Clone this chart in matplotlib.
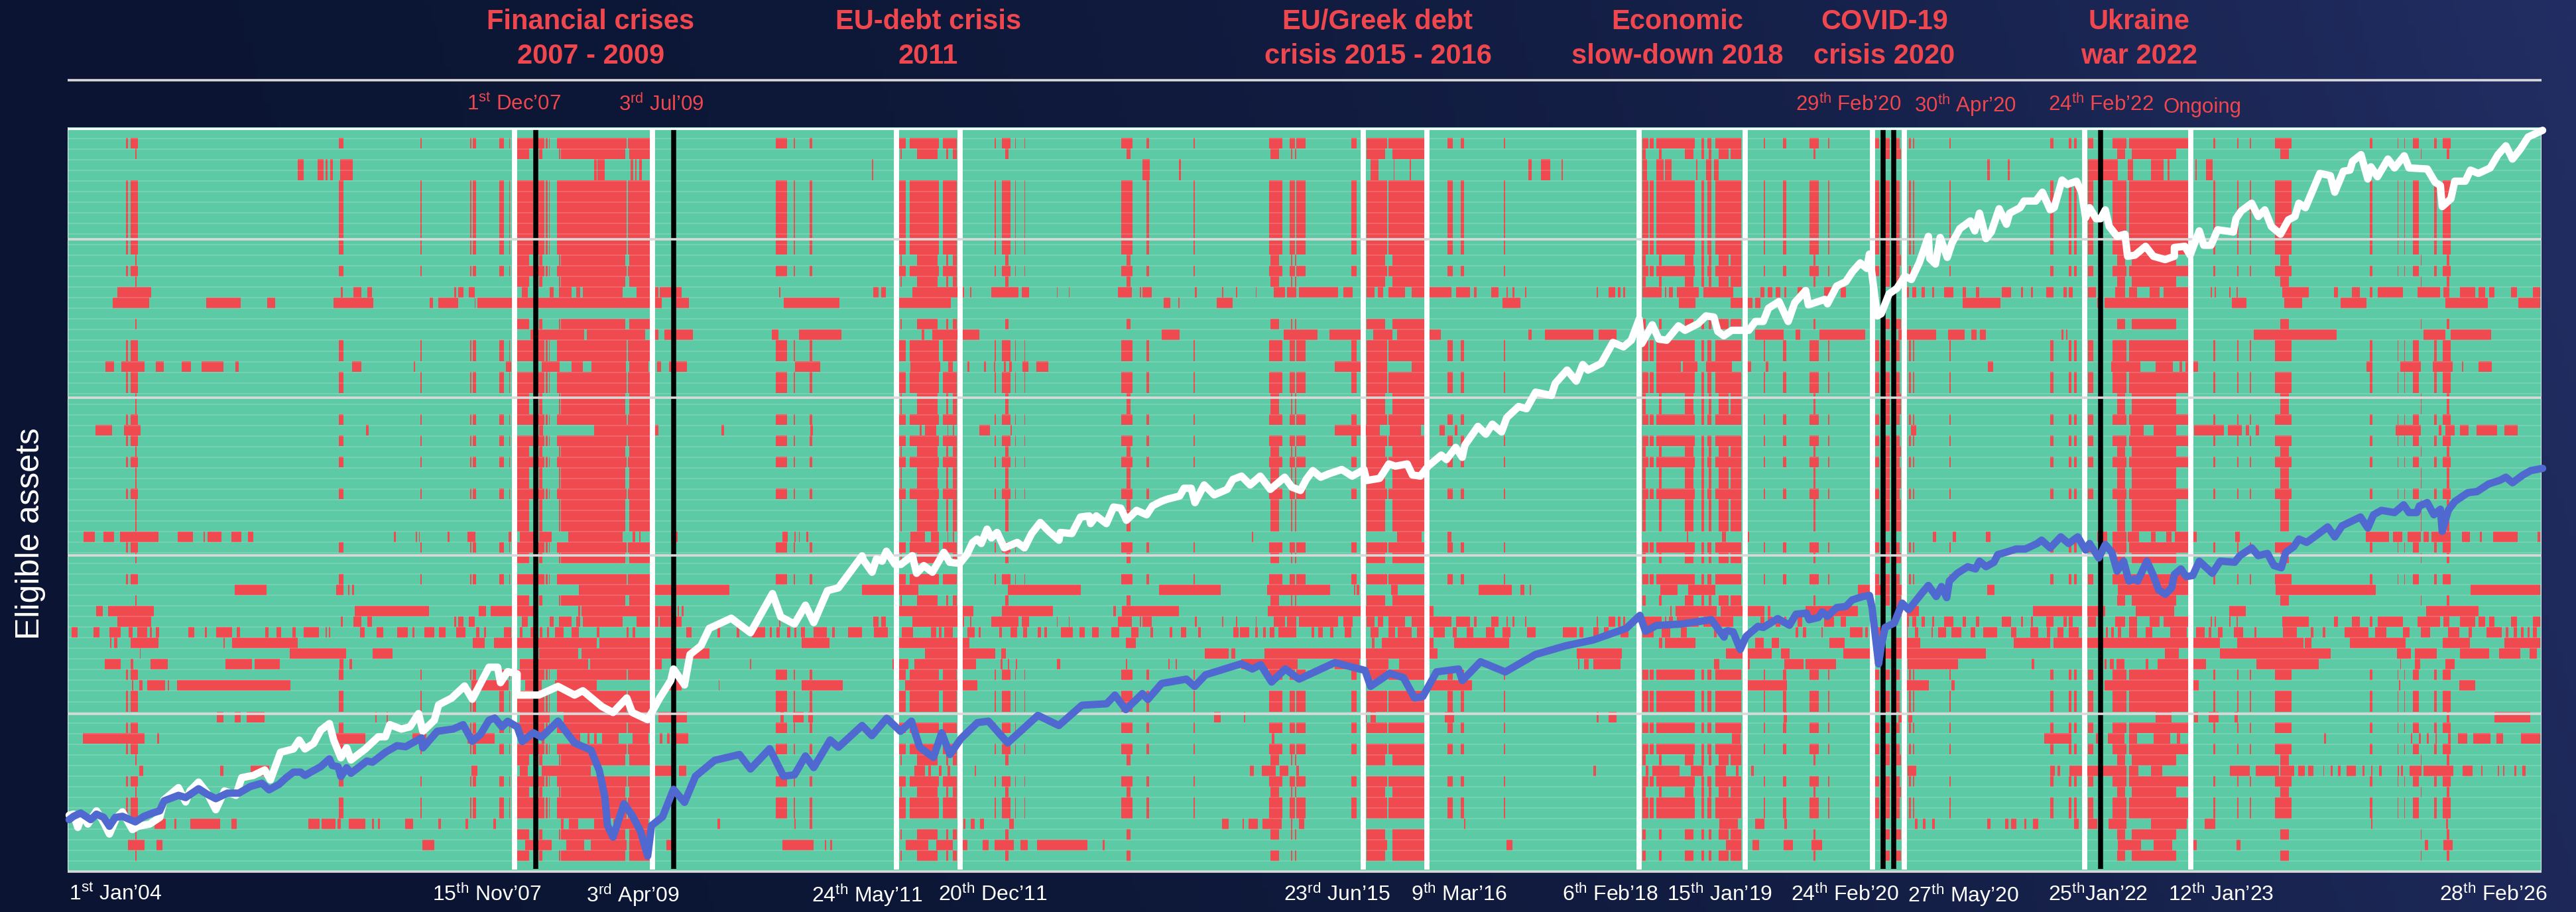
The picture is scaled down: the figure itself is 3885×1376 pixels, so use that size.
import numpy as np
import matplotlib
matplotlib.use("Agg")
import matplotlib.pyplot as plt
from matplotlib.colors import ListedColormap, LinearSegmentedColormap

plt.rcParams['font.family'] = ['Liberation Sans', 'DejaVu Sans']
plt.rcParams['mathtext.fontset'] = 'custom'
plt.rcParams['mathtext.rm'] = 'Liberation Sans'
plt.rcParams['mathtext.default'] = 'rm'

W, H = 3885, 1376
X0, X1, Y0, Y1 = 102, 3833, 121, 1315
ROW_H = 16.03
PANEL = [0, 1300, 2585]

# eligibility patterns: red spans for each of three chart sections (observation readings)
A = [[229,233,237,251,616,625,765,767,855,858,860,866,908,916,926,928,941,970,978,990,993,996,998,1000,1013,1140,1142,1182,1411,1432,1444,1446,1473,1477],
     [68,80,87,140,147,173,241,244,254,270,278,280,295,297,472,492,517,522,603,606,740,765,778,788,790,807,890,900,918,955,958,1023,1065,1075,1089,1095,1168,1170,1420,1430,1433,1440,1445,1515,1527,1532,1538,1545],
     [3,50,90,93,126,132,174,191,207,210,293,300,305,320,328,338,355,358,362,364,428,430,612,618,645,650,655,660,680,690,725,750,755,862,908,912,952,954,975,977,1020,1050,1193,1197,1243,1245,1255,1257,1271,1282,1310,1314,1325,1340]]
B = [[246,248,941,962,980,987,1017,1019,1020,1137,1144,1182],
     [70,72,100,137,153,157,165,172,260,267,481,489,743,758,780,783,787,790,918,952,965,1023,1420,1425,1450,1455,1497,1512,1527,1532,1540,1545],
     [8,26,30,50,181,184,305,320,330,340,733,748,760,840,1030,1045,1285,1287,1333,1337]]
C = [[542,552,578,588,592,596,600,605,619,642,1080,1085,1087,1100,1147,1152,1155,1158,1162,1168],
     [18,20,510,524,576,580,925,940,967,969,996,998,1212,1218,1235,1252,1272,1275,1420,1428,1445,1458,1460,1472,1517,1520,1535,1545],
     [0,8,497,502,534,538,680,735,752,762,795,818,825,828,875,878,895,907]]
G = [[], [], []]
U1 = [[213,275,620,623,643,657,668,677,826,830,833,843,853,863,949,960,1000,1007,1017,1040,1048,1055,1060,1133,1158,1182,1192,1197,1200,1240,1417,1420],
      [20,30,35,43,92,175,183,186,197,199,235,285,291,304,354,356,376,378,466,491,505,508,510,527,605,609,655,657,680,683,716,718,749,770,773,790,795,866,875,893,918,932,938,948,958,988,1000,1023,1030,1072,1080,1106,1113,1118,1145,1158,1172,1175,1183,1187,1206,1208,1336,1339,1358,1370,1375,1380,1384,1388,1420,1455,1460,1463,1468,1475,1482,1522,1530,1568],
      [0,35,85,92,98,106,112,120,128,132,152,160,200,218,230,240,350,355,360,368,378,384,397,400,418,435,452,458,476,482,523,540,558,562,577,580,604,618,635,642,645,653,680,695,730,748,755,770,792,810,818,862,903,906,910,913,937,940,950,953,1033,1082,1128,1135,1160,1175,1193,1198,1207,1253,1280,1320,1327,1338,1357,1385,1390,1402,1410,1420,1450,1460,1490,1503]]
U2 = [[205,271,375,438,486,500,607,679,782,788,797,833,863,865,868,1203,1230,1253,1426,1527],
      [68,162,549,561,575,578,645,674,1165,1197,1486,1516],
      [30,55,60,70,75,85,452,521,697,700,710,862,942,968,1037,1070,1140,1187,1330,1408,1463,1503]]
U3 = [[965,1062,1067,1173,1183,1197,1209,1260,1404,1416,1453,1530],
      [108,113,128,213,545,578,767,828,850,907,930,965,973,1053,1212,1218,1242,1330,1340,1372],
      [75,127,148,157,192,275,335,404,426,456,468,478,484,495,632,635,640,643,982,1132,1290,1330,1340,1413]]
U4 = [[192,208,221,263,284,298,330,347,367,406,428,434,640,657,752,755,920,930,985,1018,1040,1060,1076,1138,1145,1180,1195,1202,1217,1250,1446,1492],
      [88,142,157,165,192,195,222,225,240,243,258,262,268,273,292,303,317,339,860,907,918,955,1000,1023,1445,1490,1493,1520,1535,1568],
      [0,33,60,68,94,99,498,508,722,776,803,835,847,852,858,865,870,880,1187,1197,1248,1285,1307,1344,1360,1363,1391,1415]]
U5 = [[174,204,226,256,666,671,980,988,1080,1198,1312,1317,1474,1479],
      [105,108,115,135,155,157,165,168,213,233,270,272,860,942,960,1017,1050,1060,1078,1083],
      [358,368,757,782,800,841,873,928,935,960,967,973,985,991,1240,1285,1318,1323,1330,1347,1357,1373,1387,1424,1437,1462]]
U6 = [[152,173,188,208,218,288,323,351,370,373,378,403,421,439,451,461,716,720,756,758,762,764,814,818,850,865,925,930,945,975,980,1003,1033,1132,1150,1155,1162,1165,1220,1233,1423,1433,1445,1447,1453,1455,1467,1470],
      [88,115,125,140,155,157,165,168,709,711,973,1018,1065,1072,1500,1503],
      [15,22,62,64,398,404,434,440,495,503,697,715,725,750,752,773,795,803,822,832,838,878,948,956,1185,1228,1235,1252,1262,1285,1291,1300,1305,1340,1360,1375,1393,1397,1417,1462,1498,1503]]
U7 = [[427,485,612,625,633,636,640,644,1053,1326],
      [0,102,265,398,540,653,737,851,895,897,900,905,962,975,1122,1182,1198,1205,1214,1217,1452,1483,1503,1552],
      [262,320,328,345,497,510,735,862,1022,1203,1376,1503]]
U8 = [[175,187,197,280,645,780,871,884,892,975,1052,1055,1058,1222,1232,1235,1240,1243],
      [68,203,255,347,457,462,473,577,738,1040,1470,1473,1480,1555],
      [3,5,12,92,98,103,167,262,330,373,580,712,767,837,937,967,1295,1391]]
U9 = [[130,141,170,181,199,219,234,241,250,268,273,276,283,290,343,353,373,376,393,422,430,437,483,488,503,511,532,538,552,580,592,595,598,601,655,663,685,697,722,742,750,754,772,790,798,811,830,847,866,872,880,884,916,930,945,950,965,972,982,986,995,998,1010,1025,1040,1053,1085,1090,1140,1143,1150,1155,1183,1190,1248,1258,1305,1310,1340,1345,1368,1392,1400,1404,1412,1418,1432,1438,1445,1449,1457,1464,1480,1504,1513,1518,1542,1568],
      [22,47,72,93,125,135,140,145,150,165,192,205,212,216,250,254,270,282,293,300,320,326,332,337,362,383,395,405,418,430,454,468,490,503,525,530,560,565,580,590,612,616,675,685,688,704,715,720,730,735,742,750,757,790,818,823,830,838,852,858,878,890,925,940,958,970,975,1000,1010,1025,1040,1060,1075,1082,1100,1112,1135,1150,1165,1180,1210,1225,1275,1300,1305,1312,1330,1340,1350,1358,1380,1394,1420,1440,1455,1470,1490,1500],
      [0,5,148,153,162,168,195,198,247,270,275,280,297,305,348,352,365,372,395,398,408,422,432,450,467,475,490,515,540,550,575,590,605,612,625,635,645,663,713,716,722,727,735,740,755,770,785,797,830,860,877,893,900,905,917,925,945,962,983,986,1035,1060,1085,1090,1107,1112,1147,1190,1202,1223,1253,1265,1285,1303,1335,1355,1373,1378,1405,1433,1440,1445,1455,1460,1468,1473,1480,1483,1490,1497]]
U10 = [[200,203,208,214,238,288,406,409,422,542,860,882,899,1085,1090,1222,1458,1509],
       [68,195,480,498,928,932,945,1040,1077,1177,1450,1456,1460,1516],
       [75,90,105,118,210,237,330,375,545,612,618,920,952,1072,1075,1087,1157,1258,1325,1375,1437,1503]]
U11 = [[254,256,527,630,678,714,980,1052,1058,1290],
       [115,242,253,262,624,667,672,679,732,1047,1300,1382],
       [22,105,122,138,235,495,820,845,920,1122,1242,1268,1275,1315,1357,1410,1428,1467,1483,1497]]
U12 = [[191,220,238,243,274,305,410,458,463,509,618,625,635,640,946,1070,1073,1203,1364,1366],
       [55,58,62,65,68,85,95,207,252,256,265,268,280,282,355,360,480,483,557,560,570,573,690,792,860,905,918,958,977,1030,1302,1305,1313,1322,1330,1380],
       [0,10,62,65,128,163,167,222,352,444,578,582,710,714,720,727,732,746,785,790,807,895,987,1100,1248,1250,1275,1284,1330,1347]]
U13 = [[240,243,253,259,268,300,305,308,322,528,858,925,955,985,1010,1085,1215,1240,1307,1309,1458,1533],
       [78,210,1030,1110],
       [62,133,350,391,432,438,710,882,1246,1248,1355,1385]]
U14 = [[394,407,427,438,449,481,682,685,703,706,945,1000,1025,1180,1197,1250,1420,1425,1442,1462,1470,1478],
       [640,652,695,697,915,918,925,935,1060,1077,1336,1340,1358,1372],
       [127,133,335,345,353,360,803,832,873,880,900,918,947,953,1333,1337,1420,1485]]
U15 = [[151,263,286,289,610,664,750,775,850,900,945,970,985,990,1040,1055,1068,1072,1080,1085,1095,1125,1150,1180,1200,1205,1213,1218,1228,1252],
       [745,750],
       [33,48,600,650,695,698,716,747,755,770,800,830,842,848,1110,1113,1267,1270,1282,1285,1297,1300,1312,1315,1335,1340,1353,1370,1381,1412,1423,1435,1468,1503]]
U16 = [[253,260,400,407,456,490,858,868,945,960,985,1075,1192,1222,1235,1248],
       [95,115,120,125,140,145,155,160,205,208,705,713,727,753,760,775,790,795,1330,1335,1425,1430,1437,1487,1508,1530],
       [3,22,40,45,68,72,352,368,612,620,625,630,647,750,755,772,795,815,938,975,985,1027,1030,1055,1063,1075,1080,1090,1108,1110,1122,1125,1135,1140,1150,1168,1180,1183,1195,1198,1210,1215,1243,1246,1250,1253,1265,1287,1291,1345,1362,1380,1395,1398,1425,1428,1435,1438,1456,1459,1470,1476]]
U17 = [[281,302,317,321,346,400,421,431,561,581,585,610,614,620,634,664,677,680,688,691,737,751,797,802,847,852,897,902,1020,1025,1035,1052,1080,1105,1115,1180,1305,1310,1445,1447,1473,1477],
       [185,188,198,205,215,222,268,276,655,667,692,695,703,720,728,763,780,783,795,805,1095,1098],
       [10,43,75,92,128,133,365,370,380,385,397,402,497,503,530,535,540,550,565,568,580,590,655,663,680,697,718,750,795,860,892,912,1195,1197,1332,1335]]
U18 = [[233,263,285,295,768,790,955,1003,1030,1062,1075,1140,1145,1180,1212,1222,1423,1480,1500,1503,1510,1513],
       [80,120,135,165,182,192,220,230,241,276,288,302,318,410,438,441,918,955,965,1023,1172,1183],
       [22,50,70,82,127,143,177,197,735,777,800,833,872,878,950,957,1293,1299,1327,1343]]

ROWS = [G, A, B, C, C, A, A, A, A, A, A, A, B, A, B, U1, U2, G, B, U3, A, A, U4, A, A, B, B, A, U5, A,
        B, A, B, B, A, B, B, B, U6, A, B, G, A, U7, B, U8, U1, U9, U10, U11, U12, A, U13, A, A, U14, A,
        U15, A, B, U16, A, B, A, A, U17, B, U18, B, G]

# index levels, section by section: (position, reading)
WHITE_1 = [10,750,25,745,40,805,55,750,75,790,105,730,125,770,150,835,175,760,195,735,230,815,250,800,290,790,325,760,340,680,390,625,415,690,430,640,460,600,490,650,520,725,550,640,590,660,610,580,650,570,690,545,710,590,745,465,790,450,810,410,830,450,860,425,885,365,915,335,930,410,955,490,975,445,990,500,1040,450,1085,395,1110,395,1125,340,1165,360,1195,350,1225,290,1240,370,1280,320,1295,250,1340,220,1385,165,1412,225,1440,155,1470,80,1500,80,1510,150,1535,100,1568,110]
WHITE_2 = [940,820,980,820,1015,790,1045,820,1060,805,1095,860,1115,880,1140,830,1150,880,1178,905,1200,830,1220,770,1225,730,1245,785,1255,680,1275,650,1290,590,1330,555,1365,605,1405,470,1420,550,1445,575,1465,510,1480,570,1505,460,1525,450,1568,340]
WHITE_3 = [5,465,35,520,50,460,70,470,85,425,115,485,135,485,175,445,190,525,215,490,245,520,285,430,305,475,340,480,365,440,385,385,400,370,415,390,435,325,450,365,470,340,495,410,540,385,565,410,590,345,620,295,650,335,685,375,690,340,730,345,760,270,790,265,795,300,815,265,850,300,875,225,900,230,920,285,955,240,990,260,1010,220,1040,200,1060,190,1105,175,1120,140,1145,140,1158,205,1190,125,1225,170,1270,145,1290,100,1320,85,1350,125,1385,85,1420,145,1470,90,1495,135,1525,150,1545,100,1568,60]
WHITE_4 = [5,875,30,900,60,885,110,865,150,895,195,865,205,915,255,905,290,840,315,850,360,840,380,890,410,895,440,850,490,800,510,820,545,765,570,810,580,755,630,670,660,705,685,660,720,695,740,630,785,580,815,590,850,515,910,530,925,475,970,415,1005,465,1030,390,1050,415,1100,385,1145,290,1185,310,1215,280,1245,185,1255,295,1295,210,1320,275,1350,280,1395,215,1420,235,1470,205,1500,170,1530,175,1545,240,1568,260]
WHITE_5 = [30,925,95,925,120,885,150,885,170,825,210,795,245,885,270,800,312,745,322,810,385,785,395,805,430,725,465,705,490,660,520,620,545,645,555,580,585,860,600,850,630,760,660,735,690,680,715,695,745,620,780,500,785,600,807,625,825,505,852,595,870,530,900,465,940,430,957,475,975,395,1000,510,1020,480,1050,375,1078,445,1090,395,1130,370,1145,340,1190,340,1215,300,1245,380,1260,370,1290,245,1310,265,1345,250,1365,300,1380,415,1395,370,1420,420,1437,420,1455,380,1470,455,1500,500,1530,490,1540,590,1568,585]
WHITE_6 = [40,545,70,590,115,605,150,590,150,550,190,545,210,585,245,475,262,540,290,540,315,470,375,480,385,420,405,385,445,350,470,410,495,380,520,455,555,490,585,425,610,410,625,350,650,370,680,285,705,215,745,225,762,300,795,205,820,200,830,160,862,130,888,240,900,185,925,230,965,150,990,190,1027,135,1045,190,1115,195,1145,255,1165,270,1172,365,1205,330,1220,250,1260,250,1280,200,1310,215,1355,190,1385,130,1415,90,1440,150,1470,105,1500,50,1555,20]
BLUE_1 = [10,770,25,755,50,740,85,770,105,745,130,760,150,800,170,760,195,755,240,780,270,755,300,740,325,730,340,685,390,660,415,670,460,630,490,655,520,675,560,650,600,650,640,620,680,605,705,635,740,610,765,580,790,555,815,555,830,570,850,555,885,530,915,495,925,525,945,530,955,575,975,535,990,560,1045,505,1065,510,1110,465,1150,435,1180,440,1235,400,1240,445,1290,370,1345,360,1380,340,1412,415,1440,385,1470,320,1490,310,1515,350,1535,325,1568,350]
BLUE_2 = [950,980,970,950,985,965,1015,910,1045,985,1075,1010,1090,1080,1100,1170,1105,1270,1115,1310,1135,1195,1150,1235,1165,1290,1178,1375,1185,1270,1205,1240,1225,1145,1245,1190,1265,1100,1300,1045,1345,1025,1365,1075,1400,1005,1425,1100,1445,1095,1465,1030,1480,1070,1510,975,1525,1000,1568,925]
BLUE_3 = [18,960,45,900,70,945,90,910,105,1000,130,1035,145,950,160,1025,180,970,210,915,230,910,265,985,320,890,358,925,400,855,445,850,460,820,480,870,510,815,520,835,545,780,590,765,605,790,625,750,690,712,710,730,725,715,745,775,770,730,795,765,860,708,915,735,925,790,960,745,985,760,1005,830,1020,825,1045,740,1085,730,1092,770,1125,705,1170,740,1225,680,1280,650,1330,630,1390,590,1415,545,1425,600,1445,580,1490,575,1545,560,1568,620]
BLUE_4 = [5,700,15,695,35,700,62,780,85,720,130,675,150,680,205,640,250,670,275,620,315,615,325,645,360,635,375,610,395,630,430,590,465,585,490,555,530,540,555,535,565,590,590,845,600,765,615,680,650,660,680,570,705,600,755,525,780,490,810,540,830,495,850,545,860,470,890,435,930,405,960,415,975,380,1000,405,1030,385,1045,350,1075,340,1115,325,1150,325,1195,300,1212,285,1245,320,1285,270,1315,300,1350,270,1380,330,1395,300,1430,365,1455,305,1480,340,1500,425,1525,380,1545,470,1568,460]
BLUE_5 = [10,560,45,470,70,535,90,600,115,620,140,590,150,530,175,505,195,540,220,535,245,470,295,525,325,470,380,475,400,445,445,410,470,445,505,435,530,490,558,500,575,430,605,405,625,370,655,385,690,355,735,315,762,360,790,310,860,270,888,320,910,260,940,240,990,250,1025,215,1045,250,1075,250,1085,220,1115,205,1140,260,1165,235,1172,335,1195,240,1220,200,1270,160,1305,155,1350,120,1390,105,1415,90,1440,115,1480,80,1510,60,1555,50]

WHITE_MARKS = [(0,936),(0,1187),(1,63),(1,178),(1,912),(1,1027),(1,1413),(2,57),(2,288),(2,346),(2,674),(2,867)]
BLACK_MARKS = [(0,974),(0,1225),(2,307),(2,327),(2,703)]
GRID_LEVELS = [0, 238, 477, 715, 954, 1194]

TITLES = [("Financial crises\n2007 - 2009", 891), ("EU-debt crisis\n2011", 1400), ("EU/Greek debt\ncrisis 2015 - 2016", 2078),
          ("Economic\nslow-down 2018", 2530), ("COVID-19\ncrisis 2020", 2842), ("Ukraine\nwar 2022", 3226)]
TOP_LABELS = [("1$^{st}$ Dec’07", 775), ("3$^{rd}$ Jul’09", 997), ("29$^{th}$ Feb’20", 2788), ("30$^{th}$ Apr’20", 2964), ("24$^{th}$ Feb’22", 3168)]
BOTTOM_LABELS = [("1$^{st}$ Jan’04", 174), ("15$^{th}$ Nov’07", 734), ("3$^{rd}$ Apr’09", 954), ("24$^{th}$ May’11", 1308), ("20$^{th}$ Dec’11", 1497),
                 ("23$^{rd}$ Jun’15", 2016), ("9$^{th}$ Mar’16", 2200), ("6$^{th}$ Feb’18", 2428), ("15$^{th}$ Jan’19", 2594), ("24$^{th}$ Feb’20", 2782),
                 ("27$^{th}$ May’20", 2961), ("25$^{th}$Jan’22", 3164), ("12$^{th}$ Jan’23", 3350), ("28$^{th}$ Feb’26", 3760)]

GREEN, RED, TITLE_RED = '#5CCAA5', '#EF4A50', '#F0474F'


def obs(panel, reading):
    return PANEL[panel] + np.asarray(reading, float) / 1.206 - X0


def curve(parts):
    xs, ys = [], []
    for flat, xo, fx, yo, fy in parts:
        arr = np.array(flat, float).reshape(-1, 2)
        xs.append(xo + arr[:, 0] / fx - X0)
        ys.append(Y1 - (yo + arr[:, 1] / fy))
    return np.concatenate(xs), np.concatenate(ys)


fig = plt.figure(figsize=(W / 100, H / 100), dpi=100)

# background gradient
bg = fig.add_axes([0, 0, 1, 1], zorder=0)
bg.set_axis_off()
gx, gy = np.meshgrid(np.linspace(0, 1, 400), np.linspace(0, 1, 150))
t = np.clip(gx * 0.9 + gy * 0.1, 0, 1) ** 2.2
cmap_bg = LinearSegmentedColormap.from_list('bg', ['#0B1533', '#222E63'])
bg.imshow(t, cmap=cmap_bg, aspect='auto', extent=(0, 1, 0, 1), origin='lower', vmin=0, vmax=1)

ax = fig.add_axes([X0 / W, 1 - Y1 / H, (X1 - X0) / W, (Y1 - Y0) / H], zorder=1)
ax.patch.set_alpha(0)
N = X1 - X0

matrix = np.zeros((len(ROWS), N), dtype=int)
for r, pat in enumerate(ROWS):
    for p, flat in enumerate(pat):
        for s, e in np.array(flat, float).reshape(-1, 2):
            i0, i1 = float(obs(p, s)), float(obs(p, e))
            matrix[r, max(0, int(round(i0))):max(0, int(round(i1)))] = 1
top = len(ROWS) * ROW_H
ax.imshow(matrix, cmap=ListedColormap([GREEN, RED]), vmin=0, vmax=1, aspect='auto',
          interpolation='nearest', extent=(0, N, 0, top), origin='upper', zorder=1)
ax.set_xlim(0, N)
ax.set_ylim(0, Y1 - Y0)

# faint row separators
for r in range(1, len(ROWS)):
    ax.axhline(top - r * ROW_H, color='white', alpha=0.17, lw=1.3, zorder=2)

for p, v in WHITE_MARKS:
    xv = float(obs(p, v))
    ax.plot([xv, xv], [3, Y1 - Y0 - 75], color='white', lw=5.6, solid_capstyle='butt', zorder=3)
for p, v in BLACK_MARKS:
    xv = float(obs(p, v))
    ax.plot([xv, xv], [4, Y1 - Y0 - 73], color='black', lw=5.4, solid_capstyle='butt', zorder=3)

ax.plot([0, N], [top - 1, top - 1], color='white', lw=2.4, zorder=4, solid_capstyle='butt')
ax.plot([0, 0], [0, top], color='#E8EEEE', lw=1.4, zorder=4)
ax.plot([N, N], [0, top], color='#E8EEEE', lw=1.4, zorder=4)

for lvl in GRID_LEVELS:
    ax.plot([0, N], [lvl, lvl], color='#D9D9D9', lw=2.6, zorder=4, clip_on=False, solid_capstyle='butt')

wx, wy = curve([(WHITE_1, 100, 2.306, 980, 3.0), (WHITE_2, 0, 1.206, 690, 2.286), (WHITE_3, 1300, 2.306, 690, 3.0),
                (WHITE_4, 1980, 2.53, 420, 3.0), (WHITE_5, 2600, 2.53, 190, 3.0), (WHITE_6, 3220, 2.53, 190, 3.0)])
bx, by = curve([(BLUE_1, 100, 2.306, 980, 3.0), (BLUE_2, 0, 1.206, 690, 2.286), (BLUE_3, 1300, 1.206, 690, 2.286),
                (BLUE_4, 2600, 2.53, 720, 3.0), (BLUE_5, 3220, 2.53, 690, 3.0)])
ax.plot(wx, wy, color='white', lw=8.0, solid_joinstyle='round', solid_capstyle='round', zorder=6, clip_on=False)
ax.plot(bx, by, color='#5069D0', lw=8.0, solid_joinstyle='round', solid_capstyle='round', zorder=7, clip_on=False)
ax.set_axis_off()


def ftext(x, y, s, **kw):
    fig.text(x / W, 1 - y / H, s, ha='center', va='center', **kw)


for s, x in TITLES:
    a, b = s.split('\n')
    ftext(x, 33, a, fontsize=30, color=TITLE_RED, fontweight='bold')
    ftext(x, 85, b, fontsize=30, color=TITLE_RED, fontweight='bold')
for s, x in TOP_LABELS:
    ftext(x, 158, s, fontsize=22.5, color=TITLE_RED)
ftext(3321, 162, "Ongoing", fontsize=22.5, color=TITLE_RED)
for s, x in BOTTOM_LABELS:
    ftext(x, 1350, s, fontsize=23, color='white')
ftext(46, 805, "Eligible assets", fontsize=36, color='white', rotation=90)

fig.savefig('out.png', dpi=100)
